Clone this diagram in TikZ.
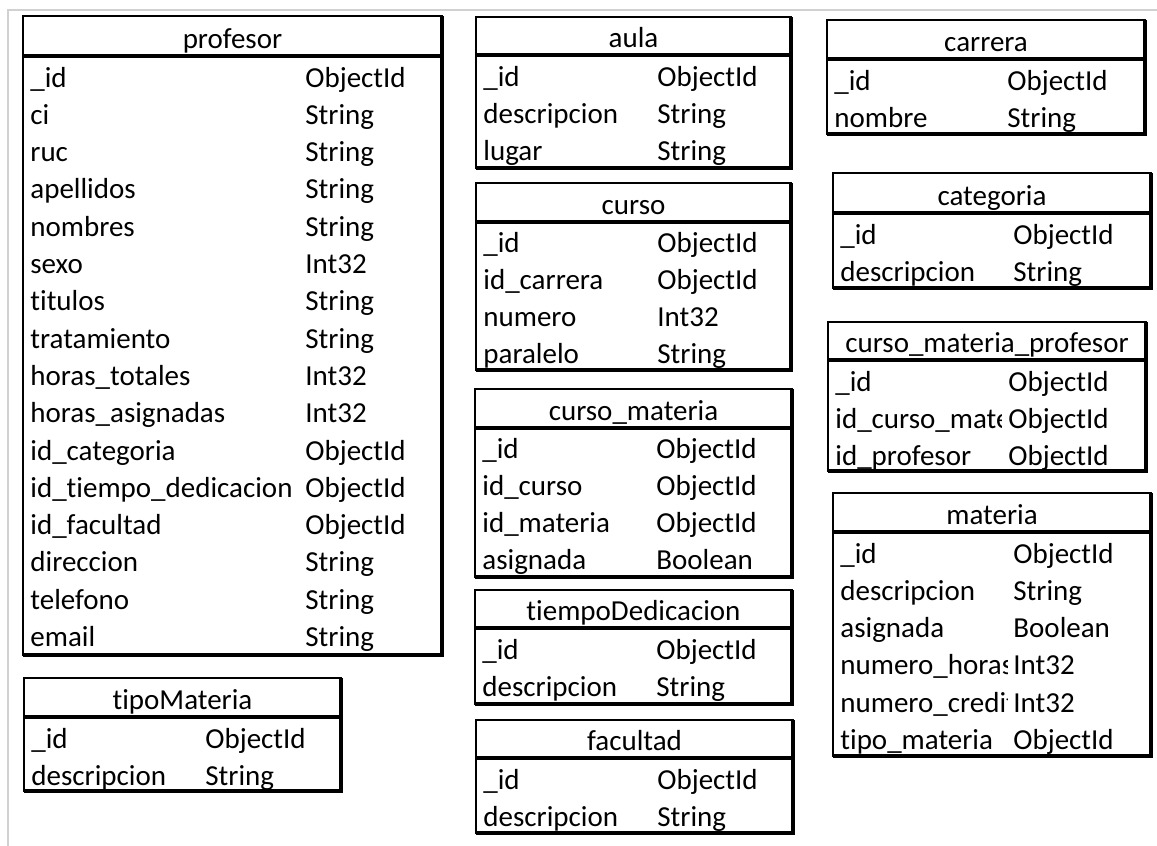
\documentclass[tikz,border=0pt]{standalone}
\usepackage{fontspec}
\setmainfont{Carlito}[Ligatures=CommonOff]
\tikzset{
	marco/.style={line width=1pt, black!18},
	borde/.style={line width=0.6pt},
	grueso/.style={line width=2pt},
	titulo/.style={anchor=base, inner sep=0pt},
	campo/.style={anchor=base west, inner sep=0pt}
}
\begin{document}
\begin{tikzpicture}[x=0.5pt,y=-0.5pt,font=\fontsize{14.5}{17}\selectfont]
	\useasboundingbox (0,0) rectangle (1157,846);
	%frame
	\draw[marco] (8,846) -- (8,10) -- (1157,10);

	%profesor
	\draw[borde] (23,16) rectangle (442,655);
	\draw[grueso] (442,16) -- (442,655) -- (23,655);
	\draw[grueso] (23,56) -- (442,56);
	\node[titulo] (profesor) at (232.5,48) {profesor};
	\foreach \nom/\tip [count=\i] in {\_id/ObjectId, ci/String, ruc/String, apellidos/String, nombres/String, sexo/Int32, titulos/String, tratamiento/String, horas\_totales/Int32, horas\_asignadas/Int32, id\_categoria/ObjectId, id\_tiempo\_dedicacion/ObjectId, id\_facultad/ObjectId, direccion/String, telefono/String, email/String} {
		\node[campo] (profesor-c\i) at (30,{87+37.3*(\i-1)}) {\nom};
		\node[campo] (profesor-t\i) at (305,{87+37.3*(\i-1)}) {\tip};
	}

	%tipoMateria
	\draw[borde] (24,678) rectangle (341,791);
	\draw[grueso] (341,678) -- (341,791) -- (24,791);
	\draw[grueso] (24,717) -- (341,717);
	\node[titulo] (tipoMateria) at (182.5,709) {tipoMateria};
	\foreach \nom/\tip [count=\i] in {\_id/ObjectId, descripcion/String} {
		\node[campo] (tipoMateria-c\i) at (31,{748+37.3*(\i-1)}) {\nom};
		\node[campo] (tipoMateria-t\i) at (205,{748+37.3*(\i-1)}) {\tip};
	}

	%aula
	\draw[borde] (476,17) rectangle (791,168);
	\draw[grueso] (791,17) -- (791,168) -- (476,168);
	\draw[grueso] (476,55) -- (791,55);
	\node[titulo] (aula) at (633.5,47) {aula};
	\foreach \nom/\tip [count=\i] in {\_id/ObjectId, descripcion/String, lugar/String} {
		\node[campo] (aula-c\i) at (483,{86+37.3*(\i-1)}) {\nom};
		\node[campo] (aula-t\i) at (657,{86+37.3*(\i-1)}) {\tip};
	}

	%curso
	\draw[borde] (476,183) rectangle (791,370);
	\draw[grueso] (791,183) -- (791,370) -- (476,370);
	\draw[grueso] (476,222) -- (791,222);
	\node[titulo] (curso) at (633.5,214) {curso};
	\foreach \nom/\tip [count=\i] in {\_id/ObjectId, id\_carrera/ObjectId, numero/Int32, paralelo/String} {
		\node[campo] (curso-c\i) at (483,{252+37.3*(\i-1)}) {\nom};
		\node[campo] (curso-t\i) at (657,{252+37.3*(\i-1)}) {\tip};
	}

	%curso_materia
	\draw[borde] (475,389) rectangle (792,577);
	\draw[grueso] (792,389) -- (792,577) -- (475,577);
	\draw[grueso] (475,428) -- (792,428);
	\node[titulo] (cursoMateria) at (633.5,420) {curso\_materia};
	\foreach \nom/\tip [count=\i] in {\_id/ObjectId, id\_curso/ObjectId, id\_materia/ObjectId, asignada/Boolean} {
		\node[campo] (cursoMateria-c\i) at (482,{458+37.3*(\i-1)}) {\nom};
		\node[campo] (cursoMateria-t\i) at (656,{458+37.3*(\i-1)}) {\tip};
	}

	%tiempoDedicacion
	\draw[borde] (475,590) rectangle (792,704);
	\draw[grueso] (792,590) -- (792,704) -- (475,704);
	\draw[grueso] (475,628) -- (792,628);
	\node[titulo] (tiempoDedicacion) at (633.5,620) {tiempoDedicacion};
	\foreach \nom/\tip [count=\i] in {\_id/ObjectId, descripcion/String} {
		\node[campo] (tiempoDedicacion-c\i) at (482,{659+37.3*(\i-1)}) {\nom};
		\node[campo] (tiempoDedicacion-t\i) at (656,{659+37.3*(\i-1)}) {\tip};
	}

	%facultad
	\draw[borde] (476,720) rectangle (793,833);
	\draw[grueso] (793,720) -- (793,833) -- (476,833);
	\draw[grueso] (476,758) -- (793,758);
	\node[titulo] (facultad) at (634.5,750) {facultad};
	\foreach \nom/\tip [count=\i] in {\_id/ObjectId, descripcion/String} {
		\node[campo] (facultad-c\i) at (483,{789+37.3*(\i-1)}) {\nom};
		\node[campo] (facultad-t\i) at (657,{789+37.3*(\i-1)}) {\tip};
	}

	%carrera
	\draw[borde] (827,20) rectangle (1145,134);
	\draw[grueso] (1145,20) -- (1145,134) -- (827,134);
	\draw[grueso] (827,59) -- (1145,59);
	\node[titulo] (carrera) at (986,51) {carrera};
	\foreach \nom/\tip [count=\i] in {\_id/ObjectId, nombre/String} {
		\node[campo] (carrera-c\i) at (834,{90+37.3*(\i-1)}) {\nom};
		\node[campo] (carrera-t\i) at (1007,{90+37.3*(\i-1)}) {\tip};
	}

	%categoria
	\draw[borde] (833,173) rectangle (1151,288);
	\draw[grueso] (1151,173) -- (1151,288) -- (833,288);
	\draw[grueso] (833,213) -- (1151,213);
	\node[titulo] (categoria) at (992,205) {categoria};
	\foreach \nom/\tip [count=\i] in {\_id/ObjectId, descripcion/String} {
		\node[campo] (categoria-c\i) at (840,{244+37.3*(\i-1)}) {\nom};
		\node[campo] (categoria-t\i) at (1013,{244+37.3*(\i-1)}) {\tip};
	}

	%curso_materia_profesor (names cut at the type column)
	\draw[borde] (828,322) rectangle (1146,471);
	\draw[grueso] (1146,322) -- (1146,471) -- (828,471);
	\draw[grueso] (828,360) -- (1146,360);
	\node[titulo] (cursoMateriaProfesor) at (987,352) {curso\_materia\_profesor};
	\begin{scope}
		\clip (828,362) rectangle (1001,471);
		\foreach \nom [count=\i] in {\_id, id\_curso\_materia, id\_profesor}
			\node[campo] (cursoMateriaProfesor-c\i) at (835,{391+37.3*(\i-1)}) {\nom};
	\end{scope}
	\foreach \tip [count=\i] in {ObjectId, ObjectId, ObjectId}
		\node[campo] (cursoMateriaProfesor-t\i) at (1008,{391+37.3*(\i-1)}) {\tip};

	%materia
	\draw[borde] (833,493) rectangle (1151,756);
	\draw[grueso] (1151,493) -- (1151,756) -- (833,756);
	\draw[grueso] (833,532) -- (1151,532);
	\node[titulo] (materia) at (992,524) {materia};
	\begin{scope}
		\clip (833,534) rectangle (1007,756);
		\foreach \nom [count=\i] in {\_id, descripcion, asignada, numero\_horas, numero\_creditos, tipo\_materia}
			\node[campo] (materia-c\i) at (840,{563+37.3*(\i-1)}) {\nom};
	\end{scope}
	\foreach \tip [count=\i] in {ObjectId, String, Boolean, Int32, Int32, ObjectId}
		\node[campo] (materia-t\i) at (1013,{563+37.3*(\i-1)}) {\tip};
\end{tikzpicture}
\end{document}
